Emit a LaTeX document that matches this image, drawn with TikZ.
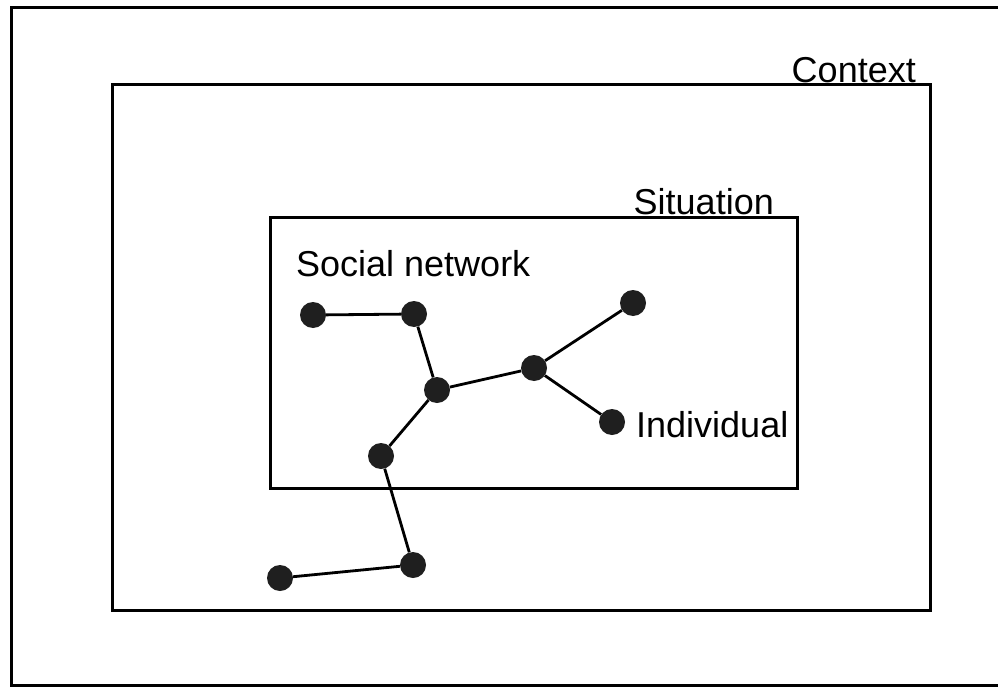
\documentclass[tikz,border=0pt]{standalone}
\usepackage{fontspec}
\setmainfont{Liberation Sans}
\begin{document}
\begin{tikzpicture}[x=1pt,y=-1pt,
  frameline/.style={line width=3pt},
  boxline/.style={line width=3pt},
  dot/.style={circle,fill=black!88,inner sep=0pt,minimum size=26pt},
  link/.style={line width=2.8pt},
  lbl/.style={inner sep=0pt,font=\fontsize{36}{40}\selectfont}]
\useasboundingbox (0,0) rectangle (998,690);
% outer frame (open on the right)
\draw[frameline] (998,8) -- (11,8) -- (11,685) -- (998,685);
% context and situation
\draw[boxline] (112,85) rectangle (930,610);
\draw[boxline] (270,217) rectangle (797,488);
\node[lbl,anchor=base east] (ctx) at (916,83) {Context};
\node[lbl,anchor=base east] (sit) at (774,214) {Situation};
\node[lbl,anchor=base west] (soc) at (296,276) {Social network};
% network
\node[dot] (n1) at (313,315) {};
\node[dot] (n2) at (414,314) {};
\node[dot] (n3) at (437,390) {};
\node[dot] (n4) at (534,368) {};
\node[dot] (n5) at (381,456) {};
\node[dot] (n6) at (633,303) {};
\node[dot] (n7) at (612,422) {};
\node[dot] (n8) at (413,565) {};
\node[dot] (n9) at (280,578) {};
\node[lbl,anchor=base west] (ind) at (636,437) {Individual};
\draw[link] (n1) -- (n2);
\draw[link] (n2) -- (n3);
\draw[link] (n3) -- (n4);
\draw[link] (n4) -- (n6);
\draw[link] (n4) -- (n7);
\draw[link] (n3) -- (n5);
\draw[link] (n5) -- (n8);
\draw[link] (n8) -- (n9);
\end{tikzpicture}
\end{document}
